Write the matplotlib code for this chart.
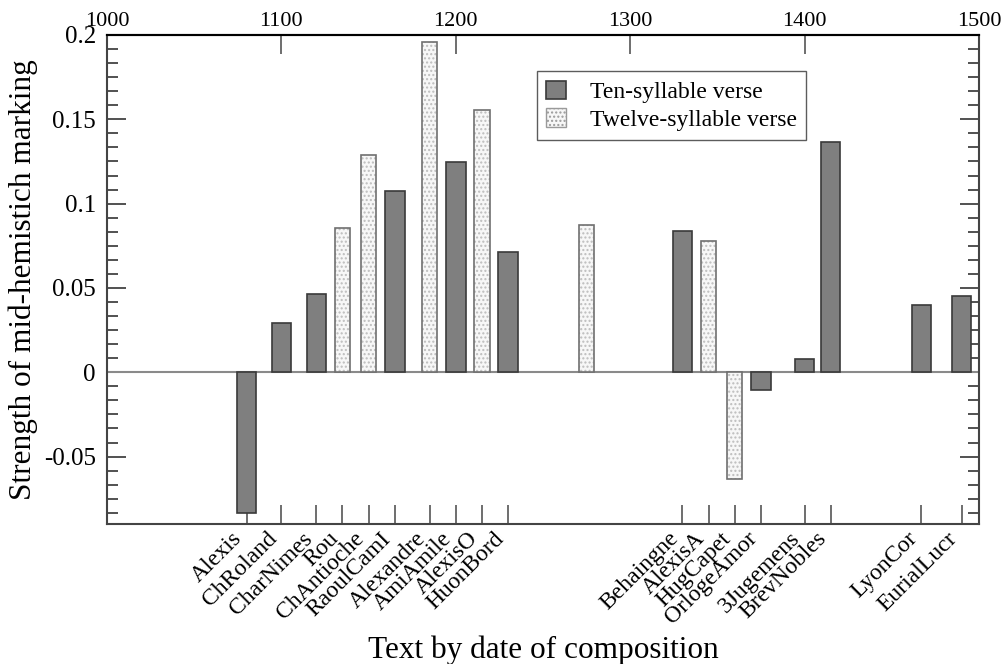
import matplotlib
matplotlib.use("Agg")
import matplotlib.pyplot as plt
from matplotlib.ticker import MultipleLocator, AutoMinorLocator
from matplotlib.patches import Patch

plt.rcParams['font.family'] = ['Liberation Serif', 'DejaVu Serif']

# texts, estimated date of composition, strength of marking, verse type
texts = ['Alexis', 'ChRoland', 'CharNimes', 'Rou', 'ChAntioche', 'RaoulCamI',
         'Alexandre', 'AmiAmile', 'AlexisO', 'HuonBord', '', 'Behaingne',
         'AlexisA', 'HugCapet', 'OrlogeAmor', '3Jugemens', 'BrevNobles',
         'LyonCor', 'EurialLucr']
years = [1080, 1100, 1120, 1135, 1150, 1165, 1185, 1200, 1215, 1230, 1275,
         1330, 1345, 1360, 1375, 1400, 1415, 1467, 1490]
values = [-0.0835, 0.029, 0.0465, 0.0853, 0.129, 0.1074, 0.1957, 0.1246,
          0.1555, 0.0715, 0.0873, 0.0839, 0.078, -0.0633, -0.0105, 0.0079,
          0.1367, 0.0396, 0.0453]
verse = [10, 10, 10, 12, 12, 10, 12, 10, 12, 10, 12, 10, 12, 12, 10, 10, 10, 10, 10]

year_ticks = [1000, 1100, 1200, 1300, 1400, 1500]

fig = plt.figure(figsize=(10.02, 6.64), dpi=100)
ax = fig.add_axes([0.1068, 0.2108, 0.8702, 0.7365])

ten_x = [y for y, v in zip(years, verse) if v == 10]
ten_h = [h for h, v in zip(values, verse) if v == 10]
twelve_x = [y for y, v in zip(years, verse) if v == 12]
twelve_h = [h for h, v in zip(values, verse) if v == 12]

ax.bar(ten_x, ten_h, width=11.2, color='#7f7f7f', edgecolor='#3a3a3a',
       linewidth=1.2, zorder=3)
# dotted fill, then outline on top
ax.bar(twelve_x, twelve_h, width=8.7, color='#f7f7f7', edgecolor='#bdbdbd',
       hatch='....', linewidth=0, zorder=3)
ax.bar(twelve_x, twelve_h, width=8.7, fill=False, edgecolor='#707070',
       linewidth=1.2, zorder=4)

ax.axhline(0, color='#8a8a8a', linewidth=1.5, zorder=2)

ax.set_xlim(1000, 1500)
ax.set_ylim(-0.09, 0.2)

lab_x = [y for y, t in zip(years, texts) if t]
lab_t = [t for t in texts if t]
ax.set_xticks(lab_x)
ax.set_xticklabels(lab_t, rotation=45, ha='right', va='top', fontsize=17)
ax.tick_params(axis='x', direction='in', length=14, width=1.2,
               color='#555555', pad=3)

ax.yaxis.set_major_locator(MultipleLocator(0.05))
ax.yaxis.set_minor_locator(AutoMinorLocator(6))
ax.set_yticks([-0.05, 0, 0.05, 0.1, 0.15, 0.2])
ax.set_yticklabels(['-0.05', '0', '0.05', '0.1', '0.15', '0.2'])
ax.tick_params(axis='y', which='major', direction='in', length=14, width=1.2,
               labelsize=18, right=True, color='#333333', pad=8)
ax.tick_params(axis='y', which='minor', direction='in', length=8, width=1.2,
               right=True, color='#333333')

top = ax.secondary_xaxis('top')
top.set_xticks(year_ticks)
top.set_xticklabels([str(y) for y in year_ticks])
top.tick_params(direction='in', length=14, width=1.2, labelsize=16,
                color='#555555', pad=3)

for s in ['left', 'right', 'bottom']:
    ax.spines[s].set_color('#444444')
    ax.spines[s].set_linewidth(1.5)
ax.spines['top'].set_linewidth(1.5)
top.spines['top'].set_linewidth(1.5)

ax.set_xlabel('Text by date of composition', fontsize=22.5, labelpad=5)
ax.set_ylabel('Strength of mid-hemistich marking', fontsize=22.5, labelpad=4)

handles = [Patch(facecolor='#7f7f7f', edgecolor='#3a3a3a', linewidth=1.2),
           Patch(facecolor='#f7f7f7', edgecolor='#9a9a9a', hatch='....',
                 linewidth=1.0)]
leg = ax.legend(handles, ['Ten-syllable verse', 'Twelve-syllable verse'],
                loc='upper left', bbox_to_anchor=(0.493, 0.926), fontsize=17,
                frameon=True, fancybox=False, edgecolor='#333333',
                handlelength=0.85, handleheight=0.85, handletextpad=1.0,
                borderpad=0.4, labelspacing=0.2, borderaxespad=0)
leg.get_frame().set_linewidth(1.0)

fig.savefig('out.png', dpi=100)
